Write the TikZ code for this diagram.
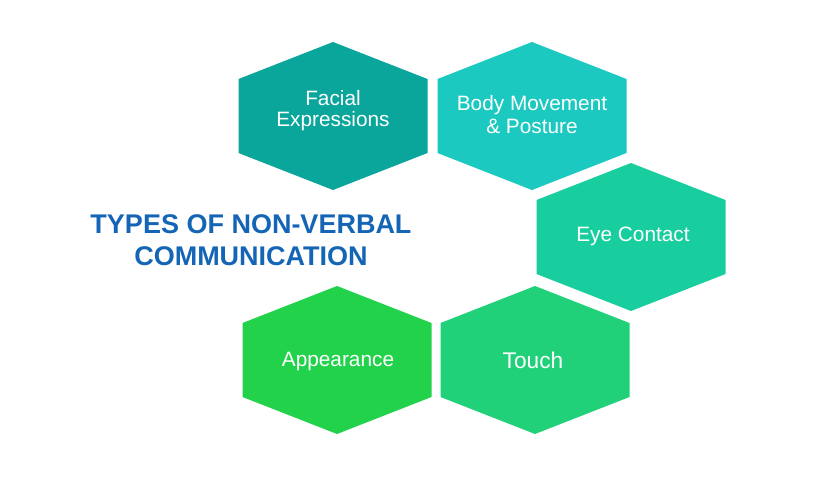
\documentclass[tikz,border=0pt]{standalone}
\usepackage{fontspec}
\setmainfont{Liberation Sans}
\definecolor{facialteal}{HTML}{0AA69C}
\definecolor{bodyteal}{HTML}{1BC9C1}
\definecolor{eyegreen}{HTML}{19CE9E}
\definecolor{touchgreen}{HTML}{20D17A}
\definecolor{appeargreen}{HTML}{22D24B}
\definecolor{titleblue}{HTML}{1565B6}
\tikzset{
  celltext/.style={text=white, align=center, inner sep=0pt, font=\fontsize{20.8}{21}\selectfont},
  titletext/.style={text=titleblue, align=center, inner sep=0pt, font=\bfseries\fontsize{27}{32}\selectfont}
}
\begin{document}
\begin{tikzpicture}[x=1pt, y=-1pt]
				\useasboundingbox (0,0) rectangle (820,480);
				\foreach \cx/\cy/\col in {333/116/facialteal, 532/116/bodyteal, 631/237/eyegreen, 337/360/appeargreen, 535/360/touchgreen}
				  \fill[\col] (\cx-94.5,\cy-37) -- (\cx,\cy-74) -- (\cx+94.5,\cy-37) -- (\cx+94.5,\cy+37) -- (\cx,\cy+74) -- (\cx-94.5,\cy+37) -- cycle;
				\node[celltext] (facial) at (333,111) {Facial\\Expressions};
				\node[celltext] (body) at (532,115) {Body Movement\\[2pt]\& Posture};
				\node[celltext] (eye) at (633,236) {Eye Contact};
				\node[celltext] (appear) at (338,361) {Appearance};
				\node[celltext, font=\fontsize{22.7}{24}\selectfont] (touch) at (533,360) {Touch};
				\node[titletext] (title) at (251,240) {TYPES OF NON-VERBAL\\COMMUNICATION};
\end{tikzpicture}
\end{document}
